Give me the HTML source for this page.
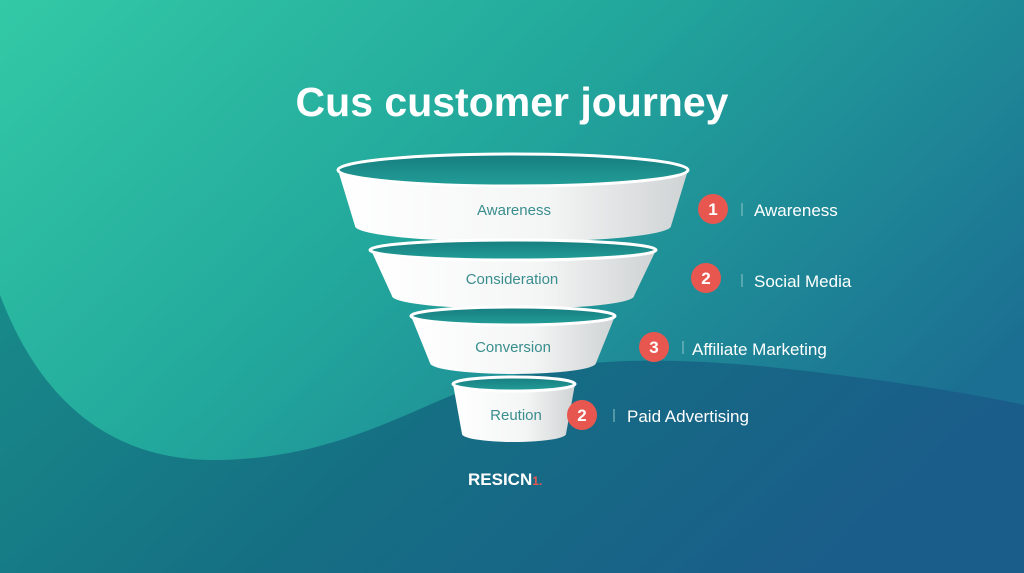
<!DOCTYPE html>
<html><head><style>body{margin:0}svg{display:block}</style></head><body>
<svg width="1024" height="573" viewBox="0 0 1024 573" xmlns="http://www.w3.org/2000/svg" font-family="Liberation Sans, sans-serif">
<defs>
<linearGradient id="bg" x1="0" y1="0" x2="1" y2="0.6">
<stop offset="0" stop-color="#33c9a6"/><stop offset="0.45" stop-color="#22a89c"/><stop offset="1" stop-color="#1b6f92"/></linearGradient>
<linearGradient id="dark" x1="0" y1="0" x2="1" y2="0.3">
<stop offset="0" stop-color="#188a89"/><stop offset="0.5" stop-color="#156f83"/><stop offset="1" stop-color="#1a5d8a"/></linearGradient>
<linearGradient id="seg" x1="0" y1="0" x2="1" y2="0">
<stop offset="0" stop-color="#ffffff"/><stop offset="0.6" stop-color="#f4f5f5"/><stop offset="1" stop-color="#cfd3d4"/></linearGradient>
<linearGradient id="hole" x1="0" y1="0" x2="0" y2="1">
<stop offset="0" stop-color="#177d80"/><stop offset="1" stop-color="#229d97"/></linearGradient>
</defs>
<rect width="1024" height="573" fill="url(#bg)"/>
<path d="M0,295 C40,400 110,462 220,460 C330,458 400,415 470,388 C560,358 650,356 760,366 C880,378 980,395 1024,405 L1024,573 L0,573Z" fill="url(#dark)"/>
<text x="512" y="116" text-anchor="middle" font-size="41" font-weight="bold" fill="#fff">Cus customer journey</text>
<g>
<path d="M338,170 L355,226 A158,16 0 0 0 671,226 L688,170Z" fill="url(#seg)"/>
<ellipse cx="513" cy="170" rx="175" ry="16" fill="url(#hole)" stroke="#fff" stroke-width="3"/>
<path d="M371,250 L392,296 A121,13 0 0 0 634,296 L656,250Z" fill="url(#seg)"/>
<ellipse cx="513" cy="250" rx="143" ry="10" fill="url(#hole)" stroke="#fff" stroke-width="3"/>
<path d="M411,316 L430,363 A83,11 0 0 0 596,363 L615,316Z" fill="url(#seg)"/>
<ellipse cx="513" cy="316" rx="102" ry="9" fill="url(#hole)" stroke="#fff" stroke-width="3"/>
<path d="M453,384 L462,434 A52,8 0 0 0 566,434 L575,384Z" fill="url(#seg)"/>
<ellipse cx="514" cy="384" rx="61" ry="7" fill="url(#hole)" stroke="#fff" stroke-width="3"/>
</g>
<g font-size="15" fill="#3a8e8e" text-anchor="middle">
<text x="514" y="215">Awareness</text>
<text x="512" y="284">Consideration</text>
<text x="513" y="352">Conversion</text>
<text x="516" y="420">Reution</text>
</g>
<g fill="#e8574f">
<circle cx="713" cy="209" r="15"/><circle cx="706" cy="278" r="15"/><circle cx="654" cy="347" r="15"/><circle cx="582" cy="415" r="15"/>
</g>
<g font-size="17" font-weight="bold" fill="#fff" text-anchor="middle">
<text x="713" y="215">1</text><text x="706" y="284">2</text><text x="654" y="353">3</text><text x="582" y="421">2</text>
</g>
<g stroke="#8fc6c8" stroke-width="1">
<line x1="742" y1="203" x2="742" y2="216"/><line x1="742" y1="274" x2="742" y2="287"/><line x1="683" y1="341" x2="683" y2="354"/><line x1="614" y1="409" x2="614" y2="422"/>
</g>
<g font-size="17" fill="#fff">
<text x="754" y="216">Awareness</text>
<text x="754" y="287">Social Media</text>
<text x="692" y="355">Affiliate Marketing</text>
<text x="627" y="422">Paid Advertising</text>
</g>
<text x="468" y="485" font-size="17" font-weight="bold" fill="#fff">RESICN<tspan fill="#e8574f" font-size="12">1.</tspan></text>
</svg>
</body></html>
